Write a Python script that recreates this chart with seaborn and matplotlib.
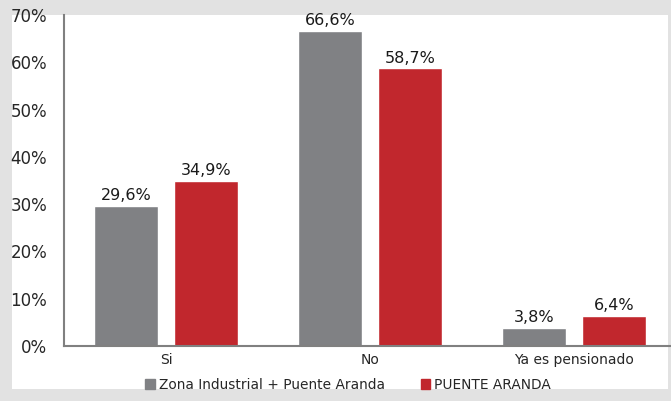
import pandas as pd
import matplotlib.pyplot as plt
import matplotlib.patches as mpatches
import seaborn as sns

# datos
categorias = ['Si', 'No', 'Ya es pensionado']
zona_industrial = [29.6, 66.6, 3.8]
puente_aranda = [34.9, 58.7, 6.4]
series = ['Zona Industrial + Puente Aranda', 'PUENTE ARANDA']
colores = ['#808184', '#c1272d']

df = pd.DataFrame({
    'categoria': categorias * 2,
    'valor': zona_industrial + puente_aranda,
    'serie': [series[0]] * 3 + [series[1]] * 3,
})

sns.set_style('white')
plt.rcParams['font.family'] = ['DejaVu Sans']

fig = plt.figure(figsize=(6.71, 4.01), dpi=100, facecolor='#e2e2e2')
# marco blanco interior (el fondo gris hace de borde)
fig.add_artist(mpatches.Rectangle((12 / 671, 12 / 401), 656 / 671, 374 / 401,
                                  transform=fig.transFigure, facecolor='white',
                                  edgecolor='none', zorder=-10))

ax = fig.add_axes([64 / 671, 1 - 346 / 401, 606 / 671, 331 / 401])
ax.set_facecolor('none')

sns.barplot(data=df, x='categoria', y='valor', hue='serie', palette=colores,
            width=0.78, gap=0.2, saturation=1, ax=ax, legend=False)

for cont in ax.containers:
    etiquetas = [f'{b.get_height():.1f}%'.replace('.', ',') for b in cont]
    ax.bar_label(cont, labels=etiquetas, padding=2, fontsize=11.5, color='#1a1a1a')

ax.set_ylim(0, 70)
ax.set_xlim(-0.5, 2.47)
ax.set_yticks(range(0, 71, 10))
ax.set_yticklabels([f'{v}%' for v in range(0, 71, 10)], fontsize=12)
ax.tick_params(axis='y', length=0, pad=12)
ax.tick_params(axis='x', length=0, pad=5, labelsize=10)
ax.set_xlabel('')
ax.set_ylabel('')

sns.despine(ax=ax, top=True, right=True)
for s in ['left', 'bottom']:
    ax.spines[s].set_color('#808080')
    ax.spines[s].set_linewidth(1.5)

handles = [mpatches.Patch(color=c, label=s) for c, s in zip(colores, series)]
fig.legend(handles=handles, loc='center', bbox_to_anchor=(348 / 671, 1 - 385 / 401),
           ncol=2, frameon=False, fontsize=9.9, handlelength=0.7, handleheight=0.7,
           handletextpad=0.3, columnspacing=2.6)

fig.savefig('out.png', dpi=100, facecolor=fig.get_facecolor())
